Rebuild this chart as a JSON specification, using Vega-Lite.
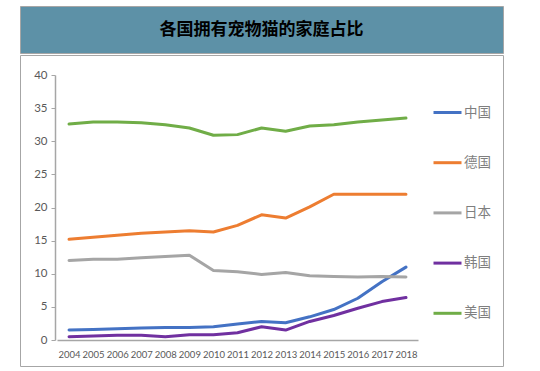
{
  "$schema": "https://vega.github.io/schema/vega-lite/v6.json",
  "padding": {"left": 19, "top": 5, "right": 0, "bottom": 0},
  "autosize": {"type": "pad"},
  "background": "white",
  "config": {"concat": {"spacing": 0}, "font": "Noto Sans CJK SC"},
  "spacing": 0,
  "vconcat": [
    {
      "width": 483,
      "height": 47,
      "view": {"fill": "#5D91A7", "stroke": "#A6A6A6", "strokeWidth": 1},
      "data": {"values": [{"t": "各国拥有宠物猫的家庭占比"}]},
      "mark": {"type": "text", "font": "Noto Sans CJK SC", "fontSize": 17, "fontWeight": "bold", "color": "#000000", "align": "center", "baseline": "middle"},
      "encoding": {"text": {"field": "t"}}
    },
    {
      "width": 483,
      "height": 311,
      "view": {"fill": "white", "stroke": "#A6A6A6", "strokeWidth": 1},
      "data": {
        "values": [
          {"year": "2004", "country": "中国", "v": 1.5},
          {"year": "2005", "country": "中国", "v": 1.6},
          {"year": "2006", "country": "中国", "v": 1.7},
          {"year": "2007", "country": "中国", "v": 1.8},
          {"year": "2008", "country": "中国", "v": 1.9},
          {"year": "2009", "country": "中国", "v": 1.9},
          {"year": "2010", "country": "中国", "v": 2.0},
          {"year": "2011", "country": "中国", "v": 2.4},
          {"year": "2012", "country": "中国", "v": 2.8},
          {"year": "2013", "country": "中国", "v": 2.6},
          {"year": "2014", "country": "中国", "v": 3.5},
          {"year": "2015", "country": "中国", "v": 4.6},
          {"year": "2016", "country": "中国", "v": 6.3},
          {"year": "2017", "country": "中国", "v": 8.8},
          {"year": "2018", "country": "中国", "v": 11.0},
          {"year": "2004", "country": "德国", "v": 15.2},
          {"year": "2005", "country": "德国", "v": 15.5},
          {"year": "2006", "country": "德国", "v": 15.8},
          {"year": "2007", "country": "德国", "v": 16.1},
          {"year": "2008", "country": "德国", "v": 16.3},
          {"year": "2009", "country": "德国", "v": 16.5},
          {"year": "2010", "country": "德国", "v": 16.3},
          {"year": "2011", "country": "德国", "v": 17.3},
          {"year": "2012", "country": "德国", "v": 18.9},
          {"year": "2013", "country": "德国", "v": 18.4},
          {"year": "2014", "country": "德国", "v": 20.1},
          {"year": "2015", "country": "德国", "v": 22.0},
          {"year": "2016", "country": "德国", "v": 22.0},
          {"year": "2017", "country": "德国", "v": 22.0},
          {"year": "2018", "country": "德国", "v": 22.0},
          {"year": "2004", "country": "日本", "v": 12.0},
          {"year": "2005", "country": "日本", "v": 12.2},
          {"year": "2006", "country": "日本", "v": 12.2},
          {"year": "2007", "country": "日本", "v": 12.4},
          {"year": "2008", "country": "日本", "v": 12.6},
          {"year": "2009", "country": "日本", "v": 12.8},
          {"year": "2010", "country": "日本", "v": 10.5},
          {"year": "2011", "country": "日本", "v": 10.3},
          {"year": "2012", "country": "日本", "v": 9.9},
          {"year": "2013", "country": "日本", "v": 10.2},
          {"year": "2014", "country": "日本", "v": 9.7},
          {"year": "2015", "country": "日本", "v": 9.6},
          {"year": "2016", "country": "日本", "v": 9.5},
          {"year": "2017", "country": "日本", "v": 9.6},
          {"year": "2018", "country": "日本", "v": 9.5},
          {"year": "2004", "country": "韩国", "v": 0.5},
          {"year": "2005", "country": "韩国", "v": 0.6},
          {"year": "2006", "country": "韩国", "v": 0.7},
          {"year": "2007", "country": "韩国", "v": 0.7},
          {"year": "2008", "country": "韩国", "v": 0.5},
          {"year": "2009", "country": "韩国", "v": 0.8},
          {"year": "2010", "country": "韩国", "v": 0.8},
          {"year": "2011", "country": "韩国", "v": 1.1},
          {"year": "2012", "country": "韩国", "v": 2.0},
          {"year": "2013", "country": "韩国", "v": 1.5},
          {"year": "2014", "country": "韩国", "v": 2.8},
          {"year": "2015", "country": "韩国", "v": 3.7},
          {"year": "2016", "country": "韩国", "v": 4.8},
          {"year": "2017", "country": "韩国", "v": 5.8},
          {"year": "2018", "country": "韩国", "v": 6.4},
          {"year": "2004", "country": "美国", "v": 32.6},
          {"year": "2005", "country": "美国", "v": 32.9},
          {"year": "2006", "country": "美国", "v": 32.9},
          {"year": "2007", "country": "美国", "v": 32.8},
          {"year": "2008", "country": "美国", "v": 32.5},
          {"year": "2009", "country": "美国", "v": 32.0},
          {"year": "2010", "country": "美国", "v": 30.9},
          {"year": "2011", "country": "美国", "v": 31.0},
          {"year": "2012", "country": "美国", "v": 32.0},
          {"year": "2013", "country": "美国", "v": 31.5},
          {"year": "2014", "country": "美国", "v": 32.3},
          {"year": "2015", "country": "美国", "v": 32.5},
          {"year": "2016", "country": "美国", "v": 32.9},
          {"year": "2017", "country": "美国", "v": 33.2},
          {"year": "2018", "country": "美国", "v": 33.5}
        ]
      },
      "mark": {"type": "line", "strokeWidth": 3, "strokeCap": "round", "strokeJoin": "round"},
      "encoding": {
        "x": {
          "field": "year", "type": "ordinal",
          "scale": {"type": "point", "padding": 0.5, "range": [37, 398]},
          "axis": {"title": null, "orient": "bottom", "offset": -26, "ticks": false, "labelAngle": 0, "labelFont": "Lato", "labelFontSize": 9.5, "labelColor": "#595959", "labelPadding": 9, "labelOverlap": false, "domainColor": "#A6A6A6", "domainWidth": 1.5, "grid": false}
        },
        "y": {
          "field": "v", "type": "quantitative",
          "scale": {"domain": [0, 40], "nice": false, "range": [285, 20]},
          "axis": {"title": null, "orient": "left", "offset": -35, "values": [0, 5, 10, 15, 20, 25, 30, 35, 40], "tickSize": 4, "tickColor": "#A6A6A6", "domainColor": "#A6A6A6", "domainWidth": 1.5, "labelFont": "Lato", "labelFontSize": 11.5, "labelColor": "#595959", "labelPadding": 4, "grid": false}
        },
        "color": {
          "field": "country", "type": "nominal",
          "scale": {"domain": ["中国", "德国", "日本", "韩国", "美国"], "range": ["#4472C4", "#ED7D31", "#A5A5A5", "#7030A0", "#70AD47"]},
          "legend": {"title": null, "orient": "none", "legendX": 412, "legendY": 91, "symbolType": "stroke", "symbolSize": 784, "symbolStrokeWidth": 3, "rowPadding": 28.2, "labelOffset": 1, "labelFont": "Noto Sans CJK SC", "labelFontSize": 13.5, "labelColor": "#7F7F7F", "padding": 0}
        }
      }
    }
  ]
}
